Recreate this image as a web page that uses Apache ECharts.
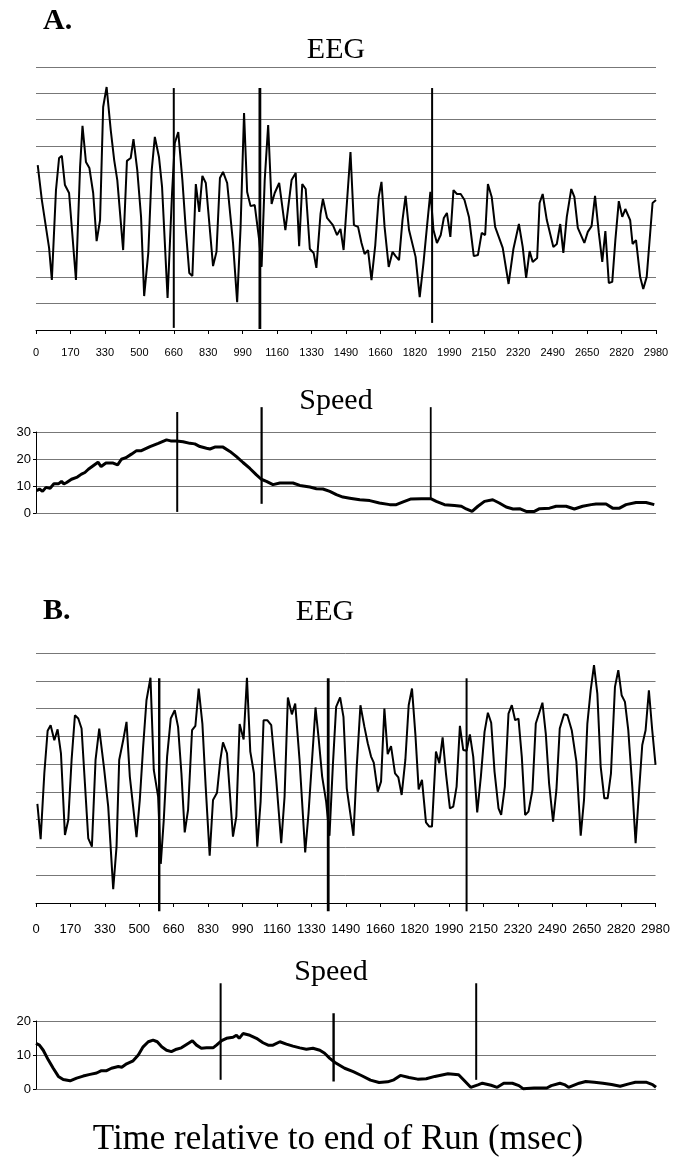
<!DOCTYPE html>
<html>
<head>
<meta charset="utf-8">
<script src="https://cdn.jsdelivr.net/npm/echarts@6/dist/echarts.min.js"></script>
<style>
html,body{margin:0;padding:0;background:#fff;}
#chart{width:673px;height:1169px;}
</style>
</head>
<body>
<div id="chart"></div>
<script>
// x axis: sample index 0..180, labelled every 10 samples (msec)
const tickLabels = ["0","170","330","500","660","830","990","1160","1330","1490","1660","1820","1990","2150","2320","2490","2650","2820","2980"];

// Panel A - EEG (arbitrary units, 0..10 grid)
const eegA_t = [0.5,1.7,3.8,4.6,5.8,6.7,7.5,8.4,9.6,11.6,12.8,13.5,14.5,15.5,16.6,17.6,18.6,19.5,20.5,21.7,22.7,23.6,25.3,26.4,27.5,28.3,29.4,30.5,31.4,32.6,33.6,34.5,35.7,36.6,38.2,39.5,40.3,41.3,42.5,43.5,44.5,45.4,46.4,47.4,48.3,49.3,51.4,52.4,53.4,54.3,55.5,57.2,58.4,59.4,60.4,61.3,62.3,63.5,64.8,65.5,66.4,67.4,68.4,69.3,70.6,72.4,74.2,75.4,76.4,77.3,78.3,79.5,80.6,81.4,82.6,83.3,84.5,86.2,87.4,88.4,89.3,91.3,92.3,93.5,94.5,95.4,96.4,97.4,98.5,99.5,100.3,101.2,102.4,103.5,104.4,105.4,106.4,107.3,108.3,110.2,111.4,112.5,113.5,114.5,115.4,116.4,117.5,118.4,119.3,120.3,121.2,122.2,123.3,124.4,125.7,127.1,128.3,129.4,130.4,131.2,132.3,133.3,135.5,137.2,138.6,140.2,141.3,142.3,143.3,144.2,145.5,146.2,147.1,148.3,150.2,151.2,152.2,153.1,154.1,155.4,156.3,157.3,159.2,160.2,161.3,162.3,163.4,164.4,165.3,166.3,167.3,168.2,169.2,170.2,171.1,172.5,173.2,174.2,175.4,176.3,177.3,179.0,180.0];
const eegA_v = [6.27,4.94,3.12,1.90,5.32,6.54,6.62,5.51,5.21,1.90,6.20,7.76,6.39,6.16,5.21,3.38,4.18,8.48,9.24,7.60,6.46,5.70,3.04,6.43,6.54,7.26,6.08,4.30,1.29,2.93,6.08,7.34,6.58,5.44,1.22,5.21,7.11,7.53,5.70,3.80,2.17,2.05,5.55,4.49,5.86,5.59,2.43,2.97,5.78,6.01,5.59,3.31,1.06,3.92,8.25,5.25,4.71,4.75,3.42,2.40,5.70,7.79,4.79,5.21,5.59,3.80,5.70,5.97,3.19,5.55,5.36,3.08,2.93,2.36,4.41,4.98,4.26,3.99,3.61,3.84,3.04,6.77,3.99,3.92,3.31,2.89,3.04,1.90,3.23,5.06,5.63,3.92,2.40,2.97,2.81,2.66,4.18,5.10,3.80,2.78,1.25,2.55,3.92,5.25,3.80,3.31,3.61,4.26,4.45,3.54,5.32,5.17,5.17,4.94,4.30,2.81,2.85,3.69,3.61,5.55,5.06,3.92,3.12,1.75,3.08,4.03,3.16,1.98,3.00,2.59,2.74,4.83,5.17,4.18,3.16,3.27,4.03,2.93,4.30,5.36,5.06,3.88,3.31,3.73,3.95,5.10,3.69,2.59,3.76,1.79,1.83,3.42,4.90,4.30,4.60,4.18,3.27,3.42,2.02,1.56,2.02,4.83,4.94];

// Panel A - Speed
const spdA_t = [0.2,1.0,1.9,2.9,4.1,5.2,6.5,7.4,8.1,8.9,10.3,12.0,13.2,14.2,15.2,16.6,18.0,18.9,20.3,22.4,23.7,24.8,26.1,27.7,29.2,30.6,33.1,35.5,37.9,39.1,40.8,42.7,44.7,46.1,47.6,49.5,50.5,51.9,54.3,56.3,58.2,60.1,62.1,64.0,65.4,66.9,68.8,70.8,74.6,76.6,79.5,81.4,83.3,85.3,87.2,89.1,91.1,94.0,96.9,99.7,102.7,104.6,106.6,108.9,111.9,114.6,116.2,118.6,121.5,123.5,124.9,126.6,128.3,130.2,132.6,134.5,136.5,138.5,140.4,142.3,144.7,146.2,149.1,151.0,153.9,156.3,158.7,161.2,162.6,165.5,167.4,169.4,171.3,174.2,177.1,179.5];
const spdA_v = [8.2,8.9,8.0,9.5,9.2,10.8,10.8,11.7,10.8,11.3,12.5,13.3,14.4,15.0,16.2,17.5,18.8,17.2,18.5,18.5,17.8,19.9,20.5,21.8,23.1,23.1,24.6,25.8,27.1,26.7,26.7,26.4,25.8,25.6,24.6,24.0,23.7,24.4,24.4,22.8,20.9,18.7,16.5,14.1,12.5,11.7,10.5,11.1,11.1,10.2,9.6,9.0,8.9,8.0,6.8,5.9,5.5,4.9,4.6,3.7,3.1,3.1,4.1,5.2,5.3,5.3,4.3,3.1,2.8,2.5,1.5,0.6,2.5,4.3,4.9,3.7,2.2,1.5,1.6,0.6,0.6,1.6,1.8,2.5,2.5,1.5,2.5,3.1,3.3,3.3,1.8,1.8,3.1,3.9,3.9,3.1];

// Panel B - EEG (arbitrary units, 0..9 grid)
const eegB_t = [0.4,1.35,2.42,3.38,4.25,5.32,6.28,7.25,8.41,9.38,10.34,11.31,12.28,13.24,15.18,16.24,17.30,18.37,19.72,20.98,22.43,23.40,24.17,25.33,26.30,27.26,29.20,30.16,31.13,32.10,33.26,34.22,35.48,36.25,37.12,38.09,39.15,40.31,41.28,42.25,43.21,44.18,45.34,46.31,47.27,48.34,49.30,50.46,51.43,52.59,53.56,54.33,55.49,57.23,58.20,59.16,60.32,61.29,62.26,63.32,64.29,65.26,66.12,67.19,68.35,69.80,71.25,72.22,73.18,74.34,75.31,76.57,78.21,79.18,80.14,81.21,82.17,83.14,84.30,85.27,86.23,87.20,88.36,89.33,90.29,92.23,93.19,94.26,95.42,96.39,97.35,98.13,99.29,100.25,101.22,102.18,103.15,104.31,105.28,106.24,107.31,108.28,109.24,110.21,111.18,112.14,113.30,114.27,115.04,116.20,117.17,118.14,119.10,120.26,121.23,122.20,123.16,124.13,125.10,126.06,127.03,128.19,129.25,130.32,131.29,132.25,133.22,134.38,135.15,136.21,137.28,138.24,139.21,140.18,141.14,142.11,143.08,144.24,145.21,147.14,148.11,149.07,150.23,151.20,152.17,153.42,154.39,155.65,157.00,158.26,159.22,160.19,161.16,162.12,163.09,164.06,165.12,166.09,167.05,168.21,169.18,170.15,171.11,172.08,173.24,174.21,175.17,176.14,177.11,178.07,179.04,180.0];
const eegB_v = [3.57,2.30,4.67,6.20,6.40,5.86,6.25,5.39,2.45,2.99,5.15,6.76,6.64,6.28,2.33,2.03,5.15,6.28,4.91,3.47,0.50,2.03,5.15,5.86,6.52,4.55,2.37,3.71,5.63,7.30,8.11,4.79,3.83,1.41,2.99,5.27,6.64,6.94,6.34,4.67,2.54,3.35,6.22,6.38,7.72,6.46,4.19,1.70,3.71,3.97,5.15,5.78,5.39,2.39,3.11,6.44,5.89,8.11,5.45,4.67,2.03,3.65,6.58,6.58,6.40,4.43,2.15,3.83,7.40,6.79,7.18,5.15,1.82,3.23,5.03,7.04,5.86,4.55,3.65,2.42,4.91,7.06,7.40,6.70,4.13,2.42,4.91,7.12,6.34,5.75,5.27,5.05,4.01,4.37,7.00,5.36,5.65,4.67,4.52,3.89,5.15,7.12,7.72,6.10,4.09,4.43,2.90,2.75,2.75,5.45,5.03,5.96,4.67,3.41,3.47,4.19,6.38,5.51,5.48,6.07,5.27,3.26,4.55,6.16,6.85,6.49,4.73,3.41,3.17,4.19,6.82,7.12,6.58,6.64,5.27,3.17,3.29,4.07,6.46,7.21,6.10,4.31,2.93,4.07,6.28,6.80,6.76,6.22,5.09,2.42,3.71,6.46,7.66,8.56,7.54,4.91,3.77,3.77,4.67,7.78,8.38,7.48,7.24,6.22,4.19,2.15,3.95,5.69,6.22,7.66,6.22,4.97];

// Panel B - Speed
const spdB_t = [0,1.0,2.1,3.6,5.0,6.5,7.9,9.9,11.8,13.7,15.7,17.6,19.0,20.5,21.9,23.9,24.9,26.3,28.2,29.7,31.1,32.6,34.0,35.2,36.5,37.9,39.3,40.8,42.2,43.7,45.4,46.6,48.0,49.5,51.4,52.4,53.9,55.3,57.2,58.2,59.0,60.1,62.1,64.0,65.9,67.4,68.8,70.8,72.7,74.6,76.6,78.5,80.4,82.4,83.8,85.3,86.8,89.6,92.1,94.6,97.1,99.6,102.1,103.9,105.8,108.3,110.8,113.3,115.8,119.6,122.7,124.6,126.2,128.3,129.6,132.1,133.9,135.8,138.3,140.2,141.4,144.6,148.3,149.6,152.1,153.4,154.6,157.7,159.6,162.1,164.6,167.1,169.6,172.1,174.0,177.1,179.0,180];
const spdB_v = [13.4,12.9,11.4,8.5,6.1,3.7,2.8,2.4,3.2,3.8,4.3,4.7,5.4,5.4,6.1,6.6,6.4,7.4,8.3,10.0,12.4,13.9,14.4,13.9,12.4,11.4,11.0,11.7,12.1,13.1,14.2,12.9,12.0,12.1,12.1,12.9,14.2,14.9,15.2,15.8,14.9,16.3,15.8,14.9,13.6,12.9,12.9,13.9,13.2,12.6,12.1,11.7,12.0,11.4,10.5,9.0,7.8,6.1,5.1,3.9,2.6,1.9,2.1,2.7,4.0,3.4,2.9,3.0,3.7,4.5,4.2,2.2,0.5,1.2,1.7,1.1,0.5,1.7,1.7,1.0,0.1,0.3,0.3,1.0,1.7,1.3,0.5,1.7,2.2,2.0,1.7,1.3,0.8,1.5,2.0,2.0,1.3,0.5];

// Event markers: sample index of each vertical line
const markA_eeg = [40, 65, 115];
const markA_spd = [41, 65.5, 114.6];
const markB_eeg = [35.8, 84.9, 125.1];
const markB_spd = [53.6, 86.4, 127.8];

const zip = (t, v) => t.map((x, i) => [x, v[i]]);
const serif = "'Liberation Serif','Times New Roman',serif";
const sans = "'Liberation Sans',Arial,sans-serif";

const grids = [
  {left: 36, width: 620, top: 67, height: 263},
  {left: 36, width: 620, top: 432, height: 81},
  {left: 36, width: 620, top: 653, height: 250},
  {left: 36, width: 620, top: 1021, height: 68}
];

function xAx(i, labels, fs, margin) {
  return {
    type: 'value', gridIndex: i, min: 0, max: 180, interval: 10,
    axisLine: {show: labels, lineStyle: {color: '#000', width: 1}},
    axisTick: {show: labels, length: 4, lineStyle: {color: '#000'}},
    axisLabel: {show: labels, formatter: v => tickLabels[Math.round(v / 10)],
      fontFamily: sans, fontSize: fs, color: '#000', margin: margin,
      showMinLabel: true, showMaxLabel: true},
    splitLine: {show: false}
  };
}
function yEeg(i, max) {
  return {
    type: 'value', gridIndex: i, min: 0, max: max, interval: 1,
    axisLine: {show: false}, axisTick: {show: false}, axisLabel: {show: false},
    splitLine: {show: true, lineStyle: {color: '#777', width: 1}}
  };
}
function ySpd(i, max) {
  return {
    type: 'value', gridIndex: i, min: 0, max: max, interval: 10,
    axisLine: {show: true, lineStyle: {color: '#000', width: 1}},
    axisTick: {show: true, length: 3, lineStyle: {color: '#000'}},
    axisLabel: {show: true, fontFamily: sans, fontSize: 13, color: '#000', margin: 5},
    splitLine: {show: true, lineStyle: {color: '#777', width: 1}}
  };
}
function trace(i, data, w) {
  return {type: 'line', xAxisIndex: i, yAxisIndex: i, data: data, symbol: 'none',
    showSymbol: false, lineStyle: {color: '#000', width: w}, itemStyle: {color: '#000'},
    clip: false, animation: false, z: 3};
}
function marker(i, x, y1, y2, w) {
  return {type: 'line', xAxisIndex: i, yAxisIndex: i, data: [[x, y1], [x, y2]], symbol: 'none',
    showSymbol: false, lineStyle: {color: '#000', width: w}, clip: false, animation: false, z: 4};
}

const series = [
  trace(0, zip(eegA_t, eegA_v), 2),
  trace(1, zip(spdA_t, spdA_v), 3),
  trace(2, zip(eegB_t, eegB_v), 2),
  trace(3, zip(spdB_t, spdB_v), 3),
  marker(0, markA_eeg[0], 9.2, 0.08, 2),
  marker(0, markA_eeg[1], 9.2, 0.04, 2.8),
  marker(0, markA_eeg[2], 9.2, 0.27, 2),
  marker(1, markA_spd[0], 37.4, 0.4, 2),
  marker(1, markA_spd[1], 39.2, 3.4, 2.2),
  marker(1, markA_spd[2], 39.2, 5.6, 1.8),
  marker(2, markB_eeg[0], 8.09, -0.3, 2.4),
  marker(2, markB_eeg[1], 8.09, -0.3, 2.8),
  marker(2, markB_eeg[2], 8.09, -0.3, 2),
  marker(3, markB_spd[0], 31.1, 2.7, 2),
  marker(3, markB_spd[1], 22.3, 2.2, 2.4),
  marker(3, markB_spd[2], 31.1, 2.7, 2)
];

function txt(s, x, y, size, weight, align) {
  return {type: 'text', x: x, y: y, style: {text: s, fill: '#000',
    font: (weight || 'normal') + ' ' + size + 'px ' + serif,
    align: align || 'center', verticalAlign: 'middle',
    textAlign: align || 'center', textVerticalAlign: 'middle'}};
}

const chart = echarts.init(document.getElementById('chart'), null, {renderer: 'canvas'});
chart.setOption({
  animation: false,
  backgroundColor: '#fff',
  grid: grids,
  xAxis: [xAx(0, true, 11, 17), xAx(1, false, 11, 0), xAx(2, true, 13, 20), xAx(3, false, 11, 0)],
  yAxis: [yEeg(0, 10), ySpd(1, 30), yEeg(2, 9), ySpd(3, 20)],
  series: series,
  graphic: [
    txt('A.', 43, 21, 30, 'bold', 'left'),
    txt('EEG', 336, 50, 30),
    txt('Speed', 336, 401, 30),
    txt('B.', 43, 611, 30, 'bold', 'left'),
    txt('EEG', 325, 612, 30),
    txt('Speed', 331, 972, 30),
    txt('Time relative to end of Run (msec)', 338, 1140, 35)
  ]
});
</script>
</body>
</html>
